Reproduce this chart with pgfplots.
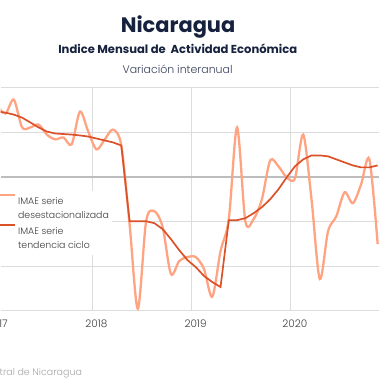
\documentclass[border=0pt]{standalone}
\usepackage{fontspec}
\setmainfont{Poppins}
\newfontfamily\lightfont{Poppins Light}
\usepackage{pgfplots}
\usepackage{pgfplotstable}
\pgfplotsset{compat=1.18}
\definecolor{lightser}{HTML}{FFA482}
\definecolor{darkser}{HTML}{DB5129}
\definecolor{navy}{HTML}{16213E}
\definecolor{gridc}{HTML}{DCDCDC}
\definecolor{zeroc}{HTML}{BDBDBD}
\definecolor{txt}{HTML}{3F3F3F}
\definecolor{src}{HTML}{A8A8A8}

% month index m: 0 = Jan 2018
\pgfplotstableread{
m val
-12 3.99
-11 3.55
-10 4.33
-9 2.77
-8 2.77
-7 2.93
-6 2.37
-5 2.10
-4 2.21
-3 1.82
-2 3.66
-1 2.54
0 1.54
1 2.10
2 2.65
3 1.76
4 -2.65
5 -7.40
6 -2.49
7 -1.93
8 -2.82
9 -5.45
10 -4.72
11 -4.50
12 -4.50
13 -5.17
14 -6.73
15 -4.16
16 -2.37
17 2.77
18 -2.49
19 -2.37
20 -1.26
21 0.92
22 0.59
23 -0.03
24 -0.08
25 2.37
26 -1.26
27 -5.73
28 -3.05
29 -2.21
30 -0.87
31 -1.48
32 -0.42
33 0.98
34 -3.77
}\desest

\pgfplotstableread{
m val
-12 3.66
-11 3.60
-10 3.49
-9 3.32
-8 3.05
-7 2.77
-6 2.54
-5 2.43
-4 2.40
-3 2.37
-2 2.32
-1 2.26
0 2.15
1 2.04
2 1.93
3 1.76
4 -2.49
5 -2.49
6 -2.49
7 -2.60
8 -2.93
9 -3.49
10 -4.11
11 -4.67
12 -5.06
13 -5.56
14 -5.90
15 -6.18
16 -2.43
17 -2.43
18 -2.32
19 -2.04
20 -1.70
21 -1.26
22 -0.70
23 -0.03
24 0.59
25 0.98
26 1.20
27 1.20
28 1.15
29 0.98
30 0.81
31 0.64
32 0.53
33 0.53
34 0.64
}\tend

\begin{document}
\begin{tikzpicture}[x=1pt,y=1pt]
\fill[white] (0,0) rectangle (380,380);

\node[font=\fontsize{21}{24}\selectfont\bfseries, text=navy, anchor=base, inner sep=0] at (178,347.7) {Nicaragua};
\node[font=\fontsize{11.6}{13}\selectfont\bfseries, text=navy, anchor=base, inner sep=0] at (177.7,326.7) {Indice Mensual de\ \ Actividad Económica};
\node[font=\lightfont\fontsize{11}{13}\selectfont, text=navy!85, anchor=base, inner sep=0] at (177.5,306.7) {Variación interanual};

\begin{axis}[
  at={(0pt,68.3pt)}, anchor=south west,
  scale only axis, width=380pt, height=223.7pt,
  clip bounding box=upper bound,
  xmin=-11.584, xmax=34.199, ymin=-7.5, ymax=5,
  xtick={-12.5,-0.5,11.5,23.5,35.5},
  xticklabels={2017,2018,2019,2020,2021},
  every tick label/.append style={overlay},
  xticklabel style={anchor=base, yshift=-16.6pt, xshift=4pt, font=\lightfont\fontsize{10.5}{12}\selectfont, text=txt},
  ytick={-7.5,-5,-2.5,2.5,5},
  yticklabels={},
  extra y ticks={0}, extra y tick labels={},
  extra y tick style={grid style={color=zeroc, line width=1.4pt}},
  grid=major, grid style={color=gridc, line width=0.8pt},
  axis line style={draw=none}, tick style={draw=none},
  legend style={overlay, at={(-0.0158,0.539)}, anchor=north west, draw=none, fill=white,
    inner xsep=1pt, inner ysep=3pt, row sep=3pt,
    font=\lightfont\fontsize{9.4}{13.7}\selectfont, text=txt,
    cells={anchor=west, align=left}},
  legend image code/.code={\draw[#1] (0pt,13.7pt) -- (18pt,13.7pt);},
]
\addplot[color=lightser, line width=2.3pt, smooth, tension=0.5] table[x=m,y=val]{\desest};
\addlegendentry{IMAE serie\\desestacionalizada}
\addplot[color=darkser, line width=1.7pt] table[x=m,y=val]{\tend};
\addlegendentry{IMAE serie\\tendencia ciclo}
\end{axis}

\node[overlay, font=\lightfont\fontsize{10.5}{12}\selectfont, text=txt, anchor=base, inner sep=0] at (-3.6,51.7) {2017};
\node[overlay, font=\lightfont\fontsize{9.5}{11}\selectfont, text=src, anchor=base east, inner sep=0] at (81.7,3.3) {Fuente: Banco Central de Nicaragua};
\path (0,0) rectangle (380,380);
\end{tikzpicture}
\end{document}
